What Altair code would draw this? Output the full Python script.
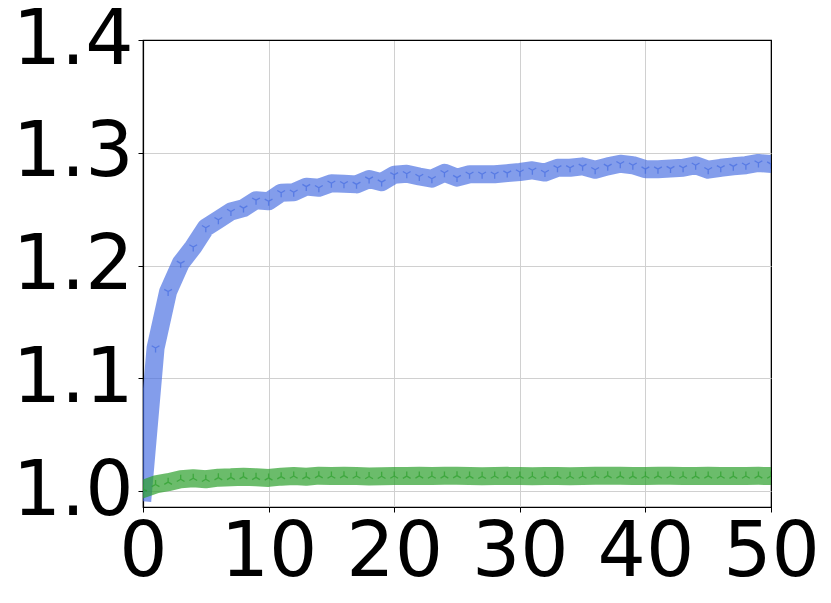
import altair as alt
import pandas as pd

steps = list(range(0, 51))

blue_vals = [
    0.999, 1.127, 1.177, 1.202, 1.2165, 1.2336, 1.2407, 1.248, 1.251, 1.258,
    1.257, 1.2646, 1.265, 1.270, 1.269, 1.273, 1.2726, 1.272, 1.2767, 1.274,
    1.2805, 1.2814, 1.279, 1.277, 1.2823, 1.278, 1.281, 1.281, 1.281, 1.282,
    1.283, 1.2845, 1.2825, 1.2867, 1.2867, 1.288, 1.285, 1.288, 1.2903, 1.289,
    1.2855, 1.2855, 1.286, 1.2867, 1.289, 1.285, 1.2867, 1.288, 1.289, 1.291,
    1.290,
]

green_vals = [
    1.002, 1.006, 1.008, 1.0106, 1.0115, 1.0106, 1.012, 1.0123, 1.0129, 1.0123,
    1.0118, 1.0129, 1.0135, 1.0129, 1.0138, 1.0135, 1.0138, 1.0135, 1.013, 1.0133,
    1.0135, 1.0134, 1.0136, 1.0135, 1.0136, 1.0138, 1.0134, 1.0132, 1.0135, 1.0136,
    1.0134, 1.0133, 1.0135, 1.0134, 1.0133, 1.0135, 1.0137, 1.0138, 1.0136, 1.0134,
    1.0135, 1.0136, 1.0137, 1.0135, 1.0134, 1.0136, 1.0135, 1.0134, 1.0135, 1.0136,
    1.0135,
]

x_ticks = [0, 10, 20, 30, 40, 50]
y_ticks = [1.0, 1.1, 1.2, 1.3, 1.4]

blue_df = pd.DataFrame({"step": steps, "value": blue_vals})
green_df = pd.DataFrame({"step": steps, "value": green_vals})

TRI_DOWN = "M0,0L0,1M0,0L0.866,-0.5M0,0L-0.866,-0.5"
TRI_UP = "M0,0L0,-1M0,0L0.866,0.5M0,0L-0.866,0.5"

GRID_LIGHT = "#d0d0d0"

x_enc = alt.X(
    "step:Q",
    scale=alt.Scale(domain=[0, 50], nice=False),
    axis=alt.Axis(
        values=x_ticks, title=None, format="d", labelOverlap=False, labelFlush=False,
        gridColor={"condition": {"test": "datum.value >= 49.99 || datum.value <= 0.01",
                                 "value": "black"}, "value": GRID_LIGHT},
    ),
)
y_enc = alt.Y(
    "value:Q",
    scale=alt.Scale(domain=[0.986, 1.4], nice=False, zero=False),
    axis=alt.Axis(
        values=y_ticks, title=None, format=".1f", labelOverlap=False, labelFlush=False,
        gridColor={"condition": {"test": "datum.value >= 1.399", "value": "black"},
                   "value": GRID_LIGHT},
    ),
)


def series(df, color, opacity, shape):
    line = alt.Chart(df).mark_line(
        color=color, strokeWidth=18, opacity=opacity,
        strokeCap="square", strokeJoin="round", clip=True,
    ).encode(x=x_enc, y=y_enc)
    pts = alt.Chart(df).mark_point(
        shape=shape, size=80, filled=False, stroke=color, strokeWidth=1.3,
        opacity=opacity, clip=True,
    ).encode(x=x_enc, y=y_enc)
    return [line, pts]


layers = series(blue_df, "#4169E1", 0.65, TRI_DOWN) + series(green_df, "#2ca02c", 0.7, TRI_UP)

chart = alt.layer(*layers).properties(
    width=628,
    height=467,
    padding={"left": 135, "top": 32, "right": 52, "bottom": 88},
    autosize="none",
    background="white",
).configure_view(
    stroke="black", strokeWidth=1.2,
).configure_axis(
    domain=True,
    domainColor="black",
    domainWidth=1.2,
    ticks=True,
    tickColor="black",
    tickSize=5,
    tickWidth=1,
    labelFont="DejaVu Sans",
    labelFontSize=76,
    labelColor="black",
    grid=True,
    gridWidth=1,
).configure_axisX(
    labelPadding=3,
).configure_axisY(
    labelPadding=5,
)

chart.save("out.html", embed_options={"renderer": "svg", "actions": False})
